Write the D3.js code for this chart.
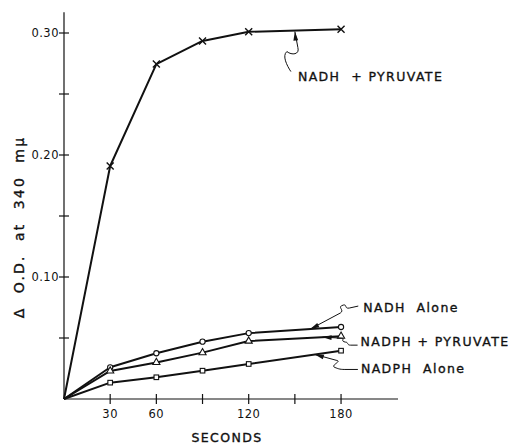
<!DOCTYPE html>
<html>
<head>
<meta charset="utf-8">
<script src="https://cdn.jsdelivr.net/npm/d3@7"></script>
<style>
  body { margin: 0; background: #fff; }
  svg { display: block; font-family: "DejaVu Sans", sans-serif; }
  .lbl { font-size: 12.5px; letter-spacing: 1.4px; fill: #111; stroke: #111; stroke-width: 0.35px; white-space: pre; }
  .tick-lbl { font-size: 11.5px; fill: #111; letter-spacing: 0.5px; }
</style>
</head>
<body>
<svg id="chart" width="515" height="445"></svg>
<script>
"use strict";

// time points (seconds), origin included
const seconds = [0, 30, 60, 90, 120, 180];

// delta O.D. at 340 mu
const nadhPyruvate = [0, 0.191, 0.2745, 0.2935, 0.301, 0.303];
const nadhAlone = [0, 0.026, 0.0375, 0.047, 0.054, 0.059];
const nadphPyruvate = [0, 0.023, 0.030, 0.038, 0.0475, 0.0515];
const nadphAlone = [0, 0.0134, 0.0178, 0.0232, 0.0287, 0.0396];

const xTicks = [30, 60, 90, 120, 150, 180];
const xTickLabels = ["30", "60", "", "120", "", "180"];
const yTicks = [0.05, 0.10, 0.15, 0.20, 0.25, 0.30];
const yTickLabels = ["", "0.10", "", "0.20", "", "0.30"];

const seriesNames = ["NADH  + PYRUVATE", "NADH  Alone", "NADPH + PYRUVATE", "NADPH  Alone"];
// time (s) on each curve where the label's arrow points
const arrowAt = [150, 160, 168, 163];

const svg = d3.select("#chart");
const ink = "#111";

const x = d3.scaleLinear().domain([0, 217]).range([64, 398]);
const y = d3.scaleLinear().domain([0, 0.3]).range([399, 33]);

// axes
svg.append("line").attr("x1", x(0)).attr("x2", x(217)).attr("y1", y(0)).attr("y2", y(0))
  .attr("stroke", ink).attr("stroke-width", 1.2);
svg.append("line").attr("x1", x(0)).attr("x2", x(0)).attr("y1", y(0)).attr("y2", y(0.317))
  .attr("stroke", ink).attr("stroke-width", 1.2);

xTicks.forEach((t, i) => {
  svg.append("line").attr("x1", x(t)).attr("x2", x(t)).attr("y1", y(0) - 5).attr("y2", y(0) + 5)
    .attr("stroke", ink).attr("stroke-width", 1.2);
  svg.append("text").attr("class", "tick-lbl").attr("x", x(t)).attr("y", y(0) + 19)
    .attr("text-anchor", "middle").text(xTickLabels[i]);
});

yTicks.forEach((t, i) => {
  svg.append("line").attr("x1", x(0) - 5).attr("x2", x(0) + 5).attr("y1", y(t)).attr("y2", y(t))
    .attr("stroke", ink).attr("stroke-width", 1.2);
  svg.append("text").attr("class", "tick-lbl").attr("x", x(0) - 5).attr("y", y(t) + 4)
    .attr("text-anchor", "end").text(yTickLabels[i]);
});

svg.append("text").attr("class", "lbl").attr("x", 227).attr("y", 442)
  .attr("text-anchor", "middle").text("SECONDS");
svg.append("text").attr("class", "lbl")
  .style("font-size", "14px").style("letter-spacing", "2.2px")
  .attr("transform", "translate(24,227) rotate(-90)")
  .attr("text-anchor", "middle").text("\u0394  O.D.  at  340  m\u03bc");

// curves
const line = d3.line().x((d, i) => x(seconds[i])).y(d => y(d));
const allSeries = [nadhPyruvate, nadhAlone, nadphPyruvate, nadphAlone];
allSeries.forEach(s => {
  svg.append("path").attr("d", line(s)).attr("fill", "none")
    .attr("stroke", ink).attr("stroke-width", 2).attr("stroke-linejoin", "round");
});

// markers (skip the origin)
const pts = s => s.map((v, i) => [seconds[i], v]).slice(1);

svg.append("g").selectAll("path").data(pts(nadhPyruvate)).join("path")
  .attr("transform", d => `translate(${x(d[0])},${y(d[1])})`)
  .attr("d", "M-3.5,-3.5L3.5,3.5M-3.5,3.5L3.5,-3.5")
  .attr("stroke", ink).attr("stroke-width", 1.4);

svg.append("g").selectAll("circle").data(pts(nadhAlone)).join("circle")
  .attr("cx", d => x(d[0])).attr("cy", d => y(d[1])).attr("r", 2.6)
  .attr("fill", "#fff").attr("stroke", ink).attr("stroke-width", 1.1);

svg.append("g").selectAll("path").data(pts(nadphPyruvate)).join("path")
  .attr("transform", d => `translate(${x(d[0])},${y(d[1])})`)
  .attr("d", d3.symbol(d3.symbolTriangle, 22))
  .attr("fill", "#fff").attr("stroke", ink).attr("stroke-width", 1.1);

svg.append("g").selectAll("rect").data(pts(nadphAlone)).join("rect")
  .attr("x", d => x(d[0]) - 2.3).attr("y", d => y(d[1]) - 2.3)
  .attr("width", 4.6).attr("height", 4.6)
  .attr("fill", "#fff").attr("stroke", ink).attr("stroke-width", 1.1);

// labels with squiggly leader arrows
const valueAt = (s, t) => d3.scaleLinear().domain(seconds).range(s)(t);

function arrowHead(tx, ty, fx, fy) {
  const a = Math.atan2(ty - fy, tx - fx);
  const l = 9, w = 2.4;
  const bx = tx - l * Math.cos(a), by = ty - l * Math.sin(a);
  svg.append("path")
    .attr("d", `M${tx},${ty}L${bx + w * Math.sin(a)},${by - w * Math.cos(a)}L${bx - w * Math.sin(a)},${by + w * Math.cos(a)}Z`)
    .attr("fill", ink);
}

// leader shapes relative to the arrow tip; "from" is the direction the arrow comes from
const leaders = [
  { dx: 3, dy: 46, from: [1, 10],
    path: "l3,16 c2,7 -6,8 -11,4 c-5,4 0,14 4,20" },
  { dx: 53, dy: -21, from: [10, -5],
    path: "l30,-16 c5,-3 -4,-6 3,-8 c4,-1 1,4 6,3 l9,-2" },
  { dx: 38, dy: 5, from: [10, 0.5],
    path: "l19,1 c4,0 -2,3 4,4 c3,0 1,3 5,3 l7,0" },
  { dx: 46, dy: 15, from: [10, 3],
    path: "l22,6 c5,1 -7,5 -2,7 c3,1 4,2 10,2 l13,0" }
];

allSeries.forEach((s, i) => {
  const px = x(arrowAt[i]), py = y(valueAt(s, arrowAt[i])) + (i === 0 ? 1 : 0);
  const L = leaders[i];
  svg.append("path").attr("d", `M${px},${py}` + L.path).attr("fill", "none")
    .attr("stroke", ink).attr("stroke-width", 1);
  arrowHead(px, py, px + L.from[0], py + L.from[1]);
  svg.append("text").attr("class", "lbl").attr("x", px + L.dx).attr("y", py + L.dy)
    .attr("dominant-baseline", "middle").text(seriesNames[i]);
});
</script>
</body>
</html>
